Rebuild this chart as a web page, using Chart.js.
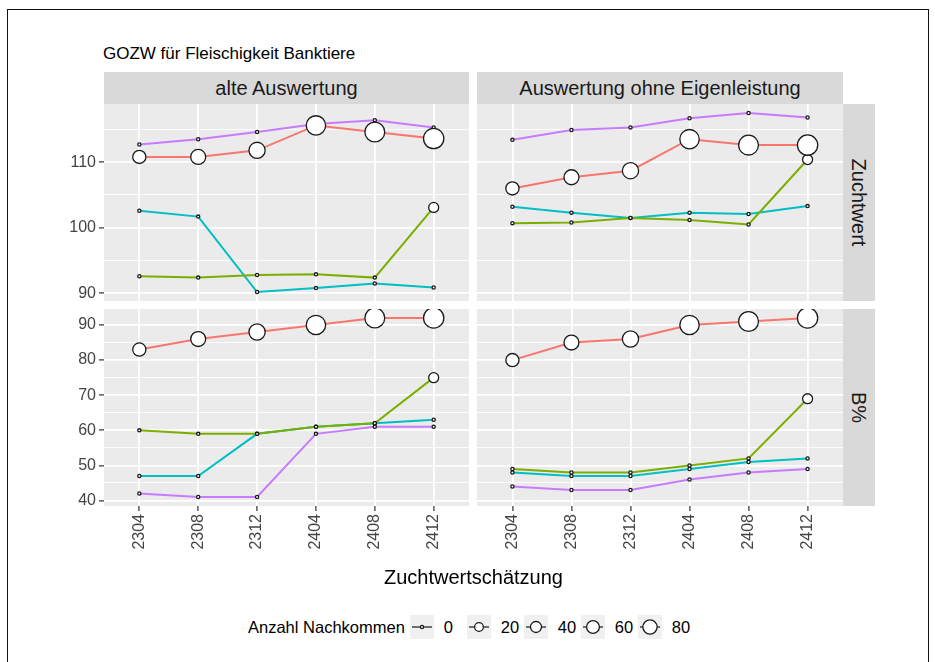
<!DOCTYPE html>
<html>
<head>
<meta charset="utf-8">
<script src="https://cdn.jsdelivr.net/npm/chart.js@4.4.0/dist/chart.umd.min.js"></script>
<style>
  body { margin: 0; background: #fff; font-family: "Liberation Sans", Arial, sans-serif; }
  #fig { position: relative; width: 935px; height: 662px; overflow: hidden; }
  .frame { position: absolute; left: 7px; top: 9px; width: 920px; height: 700px; border: 1.5px solid #111; }
  .title { position: absolute; left: 103px; top: 44px; font-size: 17px; color: #000; white-space: nowrap; }
  .strip { position: absolute; background: #d9d9d9; color: #1a1a1a; font-size: 20px;
           display: flex; align-items: center; justify-content: center; white-space: nowrap; }
  .strip.side span { transform: rotate(90deg); display: inline-block; }
  canvas { position: absolute; }
  .xtitle { position: absolute; left: 104px; width: 739px; top: 566px; text-align: center; font-size: 20px; color: #000; }
  .legend { position: absolute; left: 248px; top: 615px; display: flex; align-items: center; font-size: 16.5px; color: #000; }
  .legend .lt { margin-right: 5px; }
  .legend .lab { width: 23px; padding-left: 10px; }
  .legend svg { display: block; flex: none; }
</style>
</head>
<body>
<div id="fig">
  <div class="frame"></div>
  <div class="title">GOZW für Fleischigkeit Banktiere</div>

  <div class="strip" style="left:104px;top:72px;width:365px;height:32px;">alte Auswertung</div>
  <div class="strip" style="left:477px;top:72px;width:366px;height:32px;">Auswertung ohne Eigenleistung</div>
  <div class="strip side" style="left:843px;top:104px;width:32px;height:197px;"><span>Zuchtwert</span></div>
  <div class="strip side" style="left:843px;top:309px;width:32px;height:197px;"><span>B%</span></div>

  <canvas id="zwAlt" width="425" height="197" style="left:44px;top:104px;"></canvas>
  <canvas id="zwNeu" width="366" height="197" style="left:477px;top:104px;"></canvas>
  <canvas id="bpAlt" width="425" height="259" style="left:44px;top:309px;"></canvas>
  <canvas id="bpNeu" width="366" height="259" style="left:477px;top:309px;"></canvas>

  <div class="xtitle">Zuchtwertschätzung</div>
  <div class="legend" id="legend"><span class="lt">Anzahl Nachkommen</span></div>
</div>

<script>
// Zuchtwertschätzung runs
const weeks = ['2304', '2308', '2312', '2404', '2408', '2412'];

// Zuchtwert, alte Auswertung
const zwAltRed    = [110.8, 110.8, 111.8, 115.6, 114.6, 113.6];
const zwAltGreen  = [92.6, 92.4, 92.8, 92.9, 92.4, 103.1];
const zwAltCyan   = [102.6, 101.7, 90.2, 90.8, 91.5, 90.9];
const zwAltPurple = [112.7, 113.5, 114.6, 115.8, 116.4, 115.3];

// Zuchtwert, Auswertung ohne Eigenleistung
const zwNeuRed    = [106.0, 107.7, 108.7, 113.5, 112.6, 112.6];
const zwNeuGreen  = [100.7, 100.8, 101.5, 101.2, 100.5, 110.4];
const zwNeuCyan   = [103.2, 102.3, 101.5, 102.3, 102.1, 103.3];
const zwNeuPurple = [113.4, 114.9, 115.3, 116.7, 117.5, 116.8];

// B%, alte Auswertung
const bpAltRed    = [83, 86, 88, 90, 92, 92];
const bpAltGreen  = [60, 59, 59, 61, 62, 75];
const bpAltCyan   = [47, 47, 59, 61, 62, 63];
const bpAltPurple = [42, 41, 41, 59, 61, 61];

// B%, Auswertung ohne Eigenleistung
const bpNeuRed    = [80, 85, 86, 90, 91, 92];
const bpNeuGreen  = [49, 48, 48, 50, 52, 69];
const bpNeuCyan   = [48, 47, 47, 49, 51, 52];
const bpNeuPurple = [44, 43, 43, 46, 48, 49];

// Anzahl Nachkommen per Tier
const nkRed    = [65, 90, 110, 170, 180, 190];
const nkGreen  = [0, 0, 0, 0, 0, 30];
const nkCyan   = [0, 0, 0, 0, 0, 0];
const nkPurple = [0, 0, 0, 0, 0, 0];

const sizeBreaks = [0, 20, 40, 60, 80];
const zwTicks = [90, 100, 110];
const bpTicks = [40, 50, 60, 70, 80, 90];

const colors = { red: '#F8766D', green: '#7CAE00', cyan: '#00BFC4', purple: '#C77CFF' };
const FONT = "'Liberation Sans', Arial, sans-serif";
Chart.defaults.font.family = FONT;

function radius(n) { return 1.6 + 0.62 * Math.sqrt(n); }

// ggplot-like 5% expansion, shared across a facet row
function rowLimits(arrays) {
  const all = [].concat(...arrays);
  const lo = Math.min(...all), hi = Math.max(...all);
  const pad = (hi - lo) * 0.05;
  return [lo - pad, hi + pad];
}

const zwLim = rowLimits([zwAltRed, zwAltGreen, zwAltCyan, zwAltPurple, zwNeuRed, zwNeuGreen, zwNeuCyan, zwNeuPurple]);
const bpLim = rowLimits([bpAltRed, bpAltGreen, bpAltCyan, bpAltPurple, bpNeuRed, bpNeuGreen, bpNeuCyan, bpNeuPurple]);

const panelBg = {
  id: 'panelBg',
  beforeDraw(chart) {
    const { ctx, chartArea: a } = chart;
    ctx.save();
    ctx.fillStyle = '#ebebeb';
    ctx.fillRect(a.left, a.top, a.width, a.height);
    ctx.restore();
  }
};

function makePanel(id, series, lim, majors, showY, showX) {
  const minors = majors.map(v => v + 5).concat([majors[0] - 5]).filter(v => v > lim[0] && v < lim[1]);
  const gridVals = majors.concat(minors);
  const datasets = [];
  series.forEach(s => {
    const pts = s.values.map((v, i) => ({ x: i, y: v }));
    datasets.push({
      data: pts, borderColor: s.color, borderWidth: 2, pointRadius: 0,
      tension: 0, order: 1
    });
    datasets.push({
      data: pts, showLine: false, order: 0,
      pointRadius: s.nk.map(radius),
      pointBackgroundColor: '#ffffff', pointBorderColor: '#1a1a1a', pointBorderWidth: 1.3
    });
  });

  new Chart(document.getElementById(id), {
    type: 'line',
    data: { datasets },
    options: {
      responsive: false,
      animation: false,
      events: [],
      layout: { padding: 0, autoPadding: false },
      plugins: { legend: { display: false }, tooltip: { enabled: false } },
      scales: {
        x: {
          type: 'linear', min: -0.6, max: 5.6,
          afterBuildTicks: sc => { sc.ticks = weeks.map((w, i) => ({ value: i })); },
          afterFit: sc => { sc.height = showX ? 62 : 0; sc.paddingLeft = 0; sc.paddingRight = 0; },
          border: { display: false },
          grid: { color: '#ffffff', lineWidth: 1.8, drawTicks: showX, tickLength: 5, tickColor: '#333333', tickWidth: 1.2 },
          ticks: {
            display: showX, autoSkip: false, maxRotation: 90, minRotation: 90, padding: 3,
            color: '#444444', font: { size: 16 },
            callback: v => weeks[v]
          }
        },
        y: {
          type: 'linear', min: lim[0], max: lim[1],
          afterBuildTicks: sc => { sc.ticks = gridVals.map(v => ({ value: v })); },
          afterFit: sc => { sc.width = showY ? 60 : 0; sc.paddingTop = 0; sc.paddingBottom = 0; },
          border: { display: false },
          grid: {
            color: '#ffffff',
            lineWidth: c => majors.includes(c.tick.value) ? 1.8 : 0.9,
            drawTicks: showY, tickLength: 5, tickWidth: 1.2,
            tickColor: c => majors.includes(c.tick.value) ? '#333333' : 'rgba(0,0,0,0)'
          },
          ticks: {
            display: showY, autoSkip: false, padding: 3,
            color: '#444444', font: { size: 16 },
            callback: v => majors.includes(v) ? String(v) : ''
          }
        }
      }
    },
    plugins: [panelBg]
  });
}

function set(r, g, c, p) {
  return [
    { values: r, nk: nkRed, color: colors.red },
    { values: g, nk: nkGreen, color: colors.green },
    { values: c, nk: nkCyan, color: colors.cyan },
    { values: p, nk: nkPurple, color: colors.purple }
  ];
}

makePanel('zwAlt', set(zwAltRed, zwAltGreen, zwAltCyan, zwAltPurple), zwLim, zwTicks, true, false);
makePanel('zwNeu', set(zwNeuRed, zwNeuGreen, zwNeuCyan, zwNeuPurple), zwLim, zwTicks, false, false);
makePanel('bpAlt', set(bpAltRed, bpAltGreen, bpAltCyan, bpAltPurple), bpLim, bpTicks, true, true);
makePanel('bpNeu', set(bpNeuRed, bpNeuGreen, bpNeuCyan, bpNeuPurple), bpLim, bpTicks, false, true);

// size legend
const legend = document.getElementById('legend');
const NS = 'http://www.w3.org/2000/svg';
sizeBreaks.forEach(n => {
  const svg = document.createElementNS(NS, 'svg');
  svg.setAttribute('width', 24); svg.setAttribute('height', 24);
  const bg = document.createElementNS(NS, 'rect');
  bg.setAttribute('width', 24); bg.setAttribute('height', 24); bg.setAttribute('fill', '#f0f0f0');
  const ln = document.createElementNS(NS, 'line');
  ln.setAttribute('x1', 2); ln.setAttribute('x2', 22); ln.setAttribute('y1', 12); ln.setAttribute('y2', 12);
  ln.setAttribute('stroke', '#444'); ln.setAttribute('stroke-width', 1.5);
  const c = document.createElementNS(NS, 'circle');
  c.setAttribute('cx', 12); c.setAttribute('cy', 12); c.setAttribute('r', radius(n));
  c.setAttribute('fill', '#fff'); c.setAttribute('stroke', '#1a1a1a'); c.setAttribute('stroke-width', 1.3);
  svg.append(bg, ln, c);
  const lab = document.createElement('span');
  lab.className = 'lab';
  lab.textContent = n;
  legend.append(svg, lab);
});
</script>
</body>
</html>
